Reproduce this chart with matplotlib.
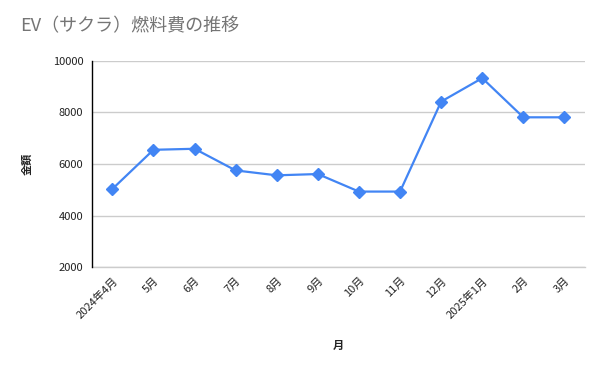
import matplotlib.pyplot as plt

plt.rcParams['font.family'] = ['Noto Sans CJK JP', 'DejaVu Sans']

# monthly values
months = ["2024年4月", "5月", "6月", "7月", "8月", "9月", "10月", "11月",
          "12月", "2025年1月", "2月", "3月"]
costs = [5030, 6550, 6590, 5750, 5560, 5610, 4930, 4930, 8420, 9330, 7810, 7810]
yticks = [2000, 4000, 6000, 8000, 10000]

fig = plt.figure(figsize=(6, 3.71), dpi=100)
ax = fig.add_axes([0.153, 0.280, 0.822, 0.556])

x = range(len(months))
ax.plot(x, costs, color="#4285F4", linewidth=1.6, marker="D", markersize=6.5, zorder=3)

ax.set_ylim(2000, 10000)
ax.set_xlim(-0.5, 11.5)
ax.set_yticks(yticks)
ax.set_yticklabels([str(v) for v in yticks], fontsize=8, color="#222222")
ax.set_xticks(list(x))
ax.set_xticklabels(months, fontsize=8, color="#222222", rotation=45,
                   ha="right", rotation_mode="anchor")
ax.tick_params(axis="both", length=0, pad=6)

ax.grid(axis="y", color="#cccccc", linewidth=1)
# bottom gridline sits on the axis edge, draw it unclipped
ax.axhline(2000, color="#cccccc", linewidth=1, clip_on=False, zorder=0)
ax.set_axisbelow(True)
for s in ["top", "right", "bottom"]:
    ax.spines[s].set_visible(False)
ax.spines["left"].set_color("black")
ax.spines["left"].set_linewidth(1)

ax.set_ylabel("金額", fontsize=8, fontweight="bold", color="#222222", labelpad=14)
ax.set_xlabel("月", fontsize=8, fontweight="bold", color="#222222", labelpad=13)

fig.text(0.033, 0.915, "EV（サクラ）燃料費の推移", fontsize=13, color="#757575")

fig.savefig("out.png", dpi=100)
